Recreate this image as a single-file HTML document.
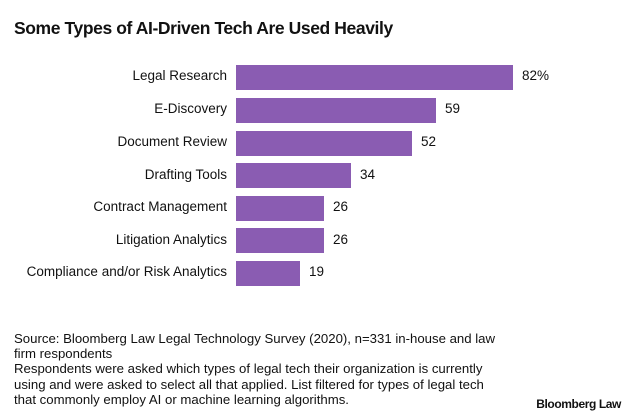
<!DOCTYPE html>
<html><head><style>
body{margin:0;width:633px;height:417px;background:#fff;font-family:"Liberation Sans",sans-serif;color:#111;position:relative;overflow:hidden}
.t{position:absolute;left:14px;top:18px;font-size:17.5px;font-weight:bold;letter-spacing:-0.4px}
.lab{position:absolute;right:406px;font-size:13.5px;text-align:right;white-space:nowrap}
.bar{position:absolute;left:236px;height:25px;background:#8a5cb2}
.v{position:absolute;font-size:13.5px}
.f{position:absolute;left:14px;top:331px;font-size:13.2px;line-height:15.2px;width:600px}
.logo{position:absolute;right:12px;top:397px;font-size:12px;font-weight:bold;letter-spacing:-0.4px}
</style></head><body>
<div class="t">Some Types of AI-Driven Tech Are Used Heavily</div>
<div class="lab" style="top:68px">Legal Research</div><div class="bar" style="top:65px;width:277px"></div><div class="v" style="left:522px;top:68px">82%</div>
<div class="lab" style="top:101px">E-Discovery</div><div class="bar" style="top:98px;width:200px"></div><div class="v" style="left:445px;top:101px">59</div>
<div class="lab" style="top:134px">Document Review</div><div class="bar" style="top:131px;width:176px"></div><div class="v" style="left:421px;top:134px">52</div>
<div class="lab" style="top:167px">Drafting Tools</div><div class="bar" style="top:163px;width:115px"></div><div class="v" style="left:360px;top:167px">34</div>
<div class="lab" style="top:199px">Contract Management</div><div class="bar" style="top:196px;width:88px"></div><div class="v" style="left:333px;top:199px">26</div>
<div class="lab" style="top:232px">Litigation Analytics</div><div class="bar" style="top:228px;width:88px"></div><div class="v" style="left:333px;top:232px">26</div>
<div class="lab" style="top:264px">Compliance and/or Risk Analytics</div><div class="bar" style="top:261px;width:64px"></div><div class="v" style="left:309px;top:264px">19</div>
<div class="f">Source: Bloomberg Law Legal Technology Survey (2020), n=331 in-house and law<br>firm respondents<br>Respondents were asked which types of legal tech their organization is currently<br>using and were asked to select all that applied. List filtered for types of legal tech<br>that commonly employ AI or machine learning algorithms.</div>
<div class="logo">Bloomberg Law</div>
</body></html>
